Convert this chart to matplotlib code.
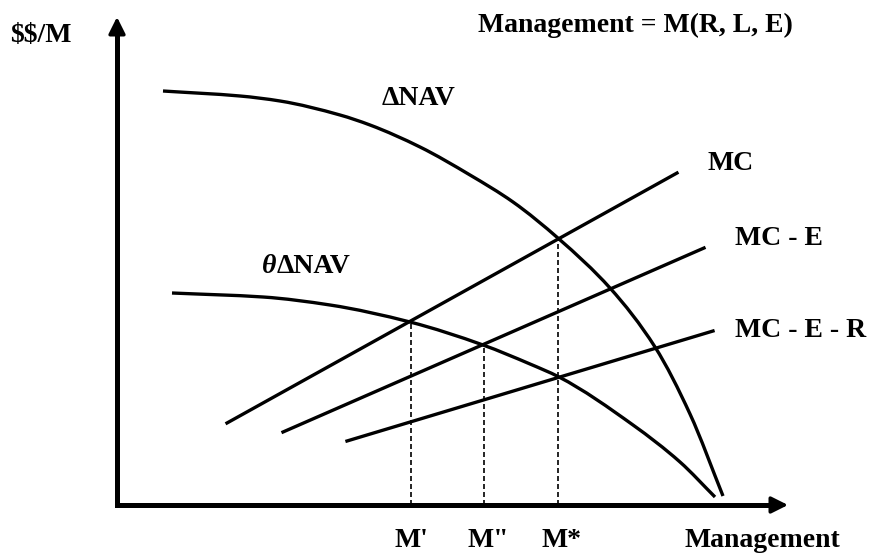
#!/usr/bin/env python3
"""
Management effort diagram: NAV gain curves vs marginal cost lines.
"""
import glob
import numpy as np
import matplotlib
matplotlib.use("Agg")
import matplotlib.pyplot as plt
from matplotlib.path import Path
from matplotlib.patches import PathPatch
from matplotlib.font_manager import FontProperties

# units: Management along x, $$/M along y (origin at the axes corner)
nav_x = [46, 123, 163, 223, 253, 303, 353, 396, 442, 493, 538, 573, 606]
nav_y = [414, 409, 404, 390, 380, 358, 330, 303, 266, 217, 158, 91, 9]

theta_nav_x = [55, 146, 213, 293, 366, 413, 442, 516, 563, 598]
theta_nav_y = [212, 208, 200, 183, 160, 141, 128, 80, 43, 8]

mc_x, mc_y = [110, 560], [82, 332]
mc_e_x, mc_e_y = [166, 587], [73, 257]
mc_e_r_x, mc_e_r_y = [230, 596], [64, 174]

# optimum points (M', M", M*) and the height where the curves cross
opt_labels = ["M'", 'M"', "M*"]
opt_x = [294, 367, 441]
opt_y = [183, 160, 266]

x_max, y_max = 671, 488

plt.rcParams['text.parse_math'] = False
fs = 20


def serif_font(style):
    files = glob.glob(f'/usr/share/fonts/**/LiberationSerif-{style}.ttf', recursive=True)
    if files:
        return FontProperties(fname=files[0], size=fs)
    return FontProperties(family='Liberation Serif', weight='bold',
                          style='italic' if 'Italic' in style else 'normal', size=fs)


font_b = serif_font('Bold')
font_bi = serif_font('BoldItalic')


def smooth_path(xs, ys):
    """Shape-preserving cubic through the read points (curves are y(x))."""
    x = np.asarray(xs, float)
    y = np.asarray(ys, float)
    h = np.diff(x)
    d = np.diff(y) / h
    m = np.empty_like(x)
    m[0], m[-1] = d[0], d[-1]
    for i in range(1, len(x) - 1):
        w1, w2 = 2 * h[i] + h[i - 1], h[i] + 2 * h[i - 1]
        m[i] = (w1 + w2) / (w1 / d[i - 1] + w2 / d[i]) if d[i - 1] * d[i] > 0 else 0
    verts = [(x[0], y[0])]
    codes = [Path.MOVETO]
    for i in range(len(x) - 1):
        verts += [(x[i] + h[i] / 3, y[i] + m[i] * h[i] / 3),
                  (x[i + 1] - h[i] / 3, y[i + 1] - m[i + 1] * h[i] / 3),
                  (x[i + 1], y[i + 1])]
        codes += [Path.CURVE4] * 3
    return Path(verts, codes)


fig = plt.figure(figsize=(8.7, 5.58), dpi=100)
ax = fig.add_axes([0, 0, 1, 1])
ax.set_xlim(-117, 753)
ax.set_ylim(-53, 505)
ax.axis('off')

# axes as an L plus arrow heads
ax.plot([0, 0, x_max - 14], [y_max - 14, 0, 0], color='black', lw=3.6,
        solid_joinstyle='miter', solid_capstyle='butt')
for tip, start in [((x_max, 0), (x_max - 20, 0)), ((0, y_max), (0, y_max - 20))]:
    ax.annotate('', xy=tip, xytext=start,
                arrowprops=dict(arrowstyle='-|>,head_length=1.0,head_width=0.5',
                                mutation_scale=10, lw=2.5, color='black',
                                shrinkA=0, shrinkB=0))

for xs, ys in [(nav_x, nav_y), (theta_nav_x, theta_nav_y)]:
    ax.add_patch(PathPatch(smooth_path(xs, ys), facecolor='none',
                           edgecolor='black', lw=2.4, capstyle='butt'))
for xs, ys in [(mc_x, mc_y), (mc_e_x, mc_e_y), (mc_e_r_x, mc_e_r_y)]:
    ax.plot(xs, ys, color='black', lw=2.4)

for x, y in zip(opt_x, opt_y):
    ax.plot([x, x], [0, y], color='black', lw=1.2, linestyle=(0, (3, 1.8)))

kw = dict(fontproperties=font_b, va='baseline', ha='left')
ax.text(-107, 463, '$$/M', **kw)
ax.text(361, 473, 'Management = M(R, L, E)', **kw)
ax.text(265, 400, '\u0394NAV', **kw)
ax.text(145, 232, '\u03b8', fontproperties=font_bi, va='baseline', ha='left')
ax.text(160, 232, '\u0394NAV', **kw)
ax.text(591, 335, 'MC', **kw)
ax.text(618, 260, 'MC - E', **kw)
ax.text(618, 168, 'MC - E - R', **kw)
for lab, x in zip(opt_labels, [278, 351, 425]):
    ax.text(x, -42, lab, **kw)
ax.text(568, -42, 'Management', **kw)

plt.savefig('out.png', dpi=100)
